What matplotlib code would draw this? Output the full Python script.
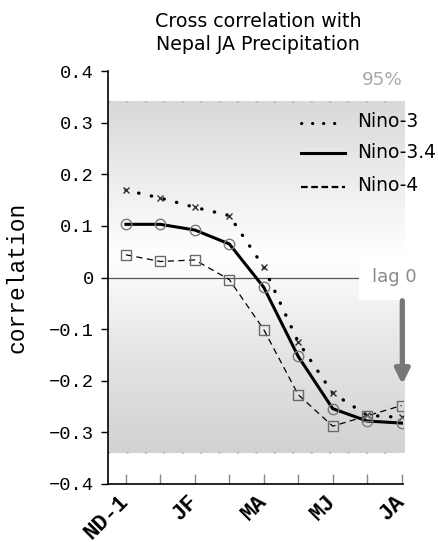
import numpy as np
import matplotlib
matplotlib.use("Agg")
import matplotlib.pyplot as plt
from matplotlib.colors import LinearSegmentedColormap
from matplotlib.patches import Rectangle

# seasons (two-month means) leading up to JA
seasons = ["ND-1", "DJ", "JF", "FM", "MA", "AM", "MJ", "JJ", "JA"]
shown_labels = ["ND-1", "JF", "MA", "MJ", "JA"]

nino3 = [0.169, 0.154, 0.136, 0.120, 0.020, -0.125, -0.224, -0.267, -0.271]
nino34 = [0.103, 0.103, 0.092, 0.065, -0.019, -0.153, -0.254, -0.278, -0.282]
nino4 = [0.044, 0.031, 0.034, -0.004, -0.101, -0.227, -0.288, -0.268, -0.248]

sig95 = 0.34

mono = "Liberation Mono"
sans = "DejaVu Sans"

fig = plt.figure(figsize=(4.38, 5.42), dpi=100)
ax = fig.add_axes([108 / 438, 58 / 542, 295 / 438, 413 / 542])

x = np.arange(len(seasons))
xlo, xhi = -0.52, 8.04

# shaded 95% band, grey at the edges fading to white near zero
cmap = LinearSegmentedColormap.from_list(
    "band", [(0, "#d2d2d2"), (0.3, "#e6e6e6"), (0.56, "#ffffff"), (0.8, "#ebebeb"), (1, "#d9d9d9")])
yy = np.linspace(-sig95, sig95, 200).reshape(-1, 1)
ax.imshow(yy, cmap=cmap, aspect="auto", extent=[xlo, 8.09, -sig95, sig95],
          origin="lower", zorder=0, clip_on=False)
for s in (sig95, -sig95):
    ax.plot([xlo, 7.65], [s, s], color="#bdbdbd", lw=1.3, ls=(0, (1.2, 9)), zorder=1)
ax.text(7.45, sig95 + 0.025, "95%", color="#a8a8a8", fontsize=13.2, ha="center",
        va="bottom", family=sans)

ax.axhline(0, color="#555555", lw=0.9, zorder=2)

dots = (0, (0.1, 3.8))
ax.plot(x, nino3, color="black", lw=2.4, ls=dots, dash_capstyle="round", zorder=4)
ax.plot(x, nino3, ls="none", marker="x", ms=4.5, mec="#333333", mew=1, zorder=5)
ax.plot(x, nino34, color="black", lw=2.2, zorder=4)
ax.plot(x, nino34, ls="none", marker="o", ms=7.5, mfc="none", mec="#7a7a7a", mew=1, zorder=5)
ax.plot(x, nino4, color="black", lw=0.9, ls=(0, (5, 3.5)), zorder=4)
ax.plot(x, nino4, ls="none", marker="s", ms=6.8, mfc="none", mec="#6a6a6a", mew=1, zorder=5)

# legend drawn by hand
leg_x0, leg_x1, leg_tx = 5.09, 6.35, 6.72
for yl, yt, style, lw, name in [(0.299, 0.303, (0, (0.1, 3.5)), 2.2, "Nino-3"),
                                 (0.241, 0.242, "-", 2.2, "Nino-3.4"),
                                 (0.175, 0.179, (0, (3, 1.6)), 1.6, "Nino-4")]:
    ax.plot([leg_x0, leg_x1], [yl, yl], color="black", lw=lw, ls=style,
            dash_capstyle="round" if name == "Nino-3" else "butt", zorder=6)
    ax.text(leg_tx, yt, name, va="center", ha="left", fontsize=13.4, family=sans, zorder=6)

# lag 0 marker
ax.add_patch(Rectangle((6.75, -0.044), 1.34, 0.083, fc="white", ec="none",
                       zorder=6, clip_on=False))
ax.text(7.8, 0.0, "lag 0", color="#8a8a8a", fontsize=13, ha="center", va="center",
        family=sans, zorder=7)
ax.annotate("", xy=(8.02, -0.207), xytext=(8.02, -0.045),
            arrowprops=dict(arrowstyle="-|>,head_length=0.85,head_width=0.42",
                            color="#777777", lw=3.8, shrinkA=0, shrinkB=0),
            zorder=7, annotation_clip=False)

ax.set_xlim(xlo, xhi)
ax.set_ylim(-0.4, 0.4)
ax.set_xticks(x)
ax.set_xticklabels([s if s in shown_labels else "" for s in seasons],
                   rotation=45, ha="right", va="center", rotation_mode="anchor",
                   fontsize=16, family=mono, fontweight="bold")
ax.tick_params(axis="x", direction="in", length=7, color="#888888", width=1, pad=10)
ax.set_yticks(np.arange(-0.4, 0.41, 0.1))
ax.set_yticklabels(["\u22120.4", "\u22120.3", "\u22120.2", "\u22120.1", "0",
                    "0.1", "0.2", "0.3", "0.4"], fontsize=13.5, family=mono)
ax.tick_params(axis="y", direction="out", length=5, width=1, pad=5)
ax.set_ylabel("correlation", fontsize=16.5, family=mono, labelpad=15)

for side in ("top", "right"):
    ax.spines[side].set_visible(False)
ax.spines["left"].set_linewidth(1.2)
ax.spines["bottom"].set_linewidth(1.2)
ax.set_facecolor("none")

fig.text(258 / 438, 1 - 26.7 / 542, "Cross correlation with", ha="center",
         va="baseline", fontsize=13.7, family=sans)
fig.text(258 / 438, 1 - 50 / 542, "Nepal JA Precipitation", ha="center",
         va="baseline", fontsize=13.7, family=sans)

fig.savefig("out.png", dpi=100)
